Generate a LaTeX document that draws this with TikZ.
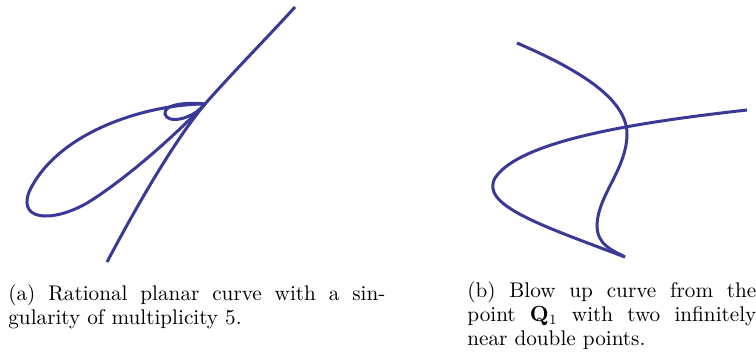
\documentclass[tikz,border=0pt]{standalone}
\usetikzlibrary{positioning}
\definecolor{curveblue}{RGB}{58,58,150}

\begin{document}
\begin{tikzpicture}[
    x=0.5pt, y=-0.5pt,
    % estilos
    curve/.style={draw=curveblue, line width=1.5pt, line cap=butt},
    caption/.style={anchor=north west, inner sep=0pt, align=justify, font=\fontsize{10.6}{12}\selectfont}
]
\useasboundingbox (0,0) rectangle (756,361);

% --- (a) curva racional con singularidad ---
\coordinate (sing) at (205,104);
\draw[curve] (107,262) .. controls (140,200) and (175,140) .. (sing)
             .. controls (235,70) and (265,40) .. (295,7);
\draw[curve] (sing) .. controls (150,104) and (58,130) .. (29,192)
             .. controls (17,224) and (60,222) .. (95,198)
             .. controls (140,168) and (185,125) .. (sing);
\draw[curve] (sing) .. controls (188,102) and (163,104) .. (165,114)
             .. controls (167,124) and (192,120) .. (sing);

% --- (b) curva explotada ---
\coordinate (meet) at (625,257);
\draw[curve] (517,43) .. controls (575,68) and (628,98) .. (627,135)
             .. controls (626,170) and (598,195) .. (597,225)
             .. controls (597,245) and (612,250) .. (meet);
\draw[curve] (747,110) .. controls (640,122) and (520,140) .. (495,178)
             .. controls (480,205) and (540,225) .. (meet);

% --- leyendas ---
\node[caption, text width=188.5pt] (capa) at (8,284)
    {(a) Rational planar curve with a sin-\linebreak gularity of multiplicity 5.};
\node[caption, text width=144.5pt] (capb) at (467,281)
    {(b) Blow up curve from the\linebreak point $\mathbf{Q}_1$ with two infinitely\linebreak near double points.};
\end{tikzpicture}
\end{document}
